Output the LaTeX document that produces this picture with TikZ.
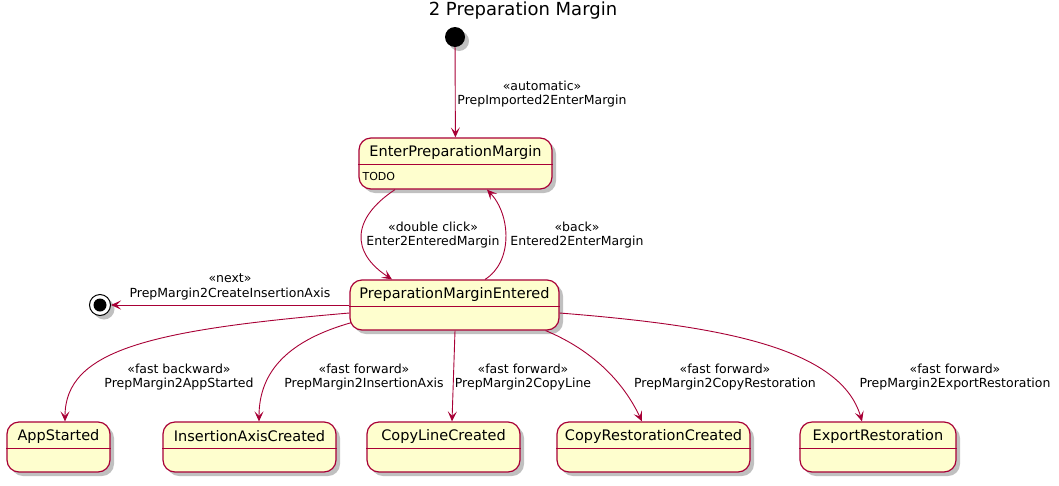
\documentclass[tikz,border=0pt]{standalone}
\usepackage{fontspec}
\setmainfont{DejaVu Sans}
\usetikzlibrary{shadows,arrows.meta,calc}
\definecolor{pumlred}{HTML}{A80036}
\definecolor{pumlfill}{HTML}{FEFECE}
\begin{document}
\begin{tikzpicture}[x=1pt,y=-1pt,
  shad/.style={drop shadow={shadow xshift=4pt, shadow yshift=-4pt, opacity=0.35, fill=black!70}},
  statebox/.style={draw=pumlred, fill=pumlfill, line width=1.2pt, rounded corners=12pt, inner sep=0pt, shad},
  sep/.style={draw=pumlred, line width=1.2pt},
  sname/.style={font=\fontsize{14.5}{16}\selectfont, inner sep=0pt},
  elabel/.style={font=\fontsize{12.5}{14.5}\selectfont, align=center, inner sep=0pt},
  trans/.style={draw=pumlred, line width=0.9pt, -{Stealth[length=10pt,width=9pt,inset=4.5pt]}},
]
\fill[white] (0,0) rectangle (1059,485);
\useasboundingbox (0,0) rectangle (1059,485);

\node[font=\fontsize{18}{20}\selectfont, inner sep=0pt] (title) at (523,11) {2 Preparation Margin};

% initial and final
\node[circle, fill=black, minimum size=20, inner sep=0pt, shad] (init) at (455,37) {};
\node[circle, draw=black, fill=white, line width=1pt, minimum size=21, inner sep=0pt, shad] (fin) at (100,305) {};
\node[circle, fill=black, minimum size=13, inner sep=0pt] (finin) at (fin) {};

% EnterPreparationMargin
\node[statebox, minimum width=193, minimum height=51] (epm) at (455.5,163.5) {};
\draw[sep] ($(epm.north west)+(0,27)$) -- ($(epm.north east)+(0,27)$);
\node[sname] (epmname) at ($(epm.north)+(0,15)$) {EnterPreparationMargin};
\node[font=\fontsize{11}{13}\selectfont, inner sep=0pt, anchor=west] (epmtodo) at ($(epm.north west)+(4,39)$) {TODO};

% PreparationMarginEntered
\node[statebox, minimum width=209, minimum height=50] (pme) at (454.5,305) {};
\draw[sep] ($(pme.north west)+(0,27)$) -- ($(pme.north east)+(0,27)$);
\node[sname] (pmename) at ($(pme.north)+(0,15)$) {PreparationMarginEntered};

% bottom states
\node[statebox, minimum width=103, minimum height=50] (app) at (58.5,447) {};
\draw[sep] ($(app.north west)+(0,27)$) -- ($(app.north east)+(0,27)$);
\node[sname] (appname) at ($(app.north)+(0,15)$) {AppStarted};

\node[statebox, minimum width=173, minimum height=50] (iac) at (249.5,447) {};
\draw[sep] ($(iac.north west)+(0,27)$) -- ($(iac.north east)+(0,27)$);
\node[sname] (iacname) at ($(iac.north)+(0,15)$) {InsertionAxisCreated};

\node[statebox, minimum width=153, minimum height=50] (clc) at (443.5,447) {};
\draw[sep] ($(clc.north west)+(0,27)$) -- ($(clc.north east)+(0,27)$);
\node[sname] (clcname) at ($(clc.north)+(0,15)$) {CopyLineCreated};

\node[statebox, minimum width=193, minimum height=50] (crc) at (653.5,447) {};
\draw[sep] ($(crc.north west)+(0,27)$) -- ($(crc.north east)+(0,27)$);
\node[sname] (crcname) at ($(crc.north)+(0,15)$) {CopyRestorationCreated};

\node[statebox, minimum width=156, minimum height=50] (exr) at (878,447) {};
\draw[sep] ($(exr.north west)+(0,27)$) -- ($(exr.north east)+(0,27)$);
\node[sname] (exrname) at ($(exr.north)+(0,15)$) {ExportRestoration};

% transitions
\draw[trans] (init) -- (epm);
\node[elabel] (l1) at (542,94) {«automatic»\\PrepImported2EnterMargin};

\draw[trans] ($(epm.south)+(-60.5,0)$) .. controls (352,218) and (350,252) .. ($(pme.north)+(-62.5,0)$);
\node[elabel] (l2) at (433,235) {«double click»\\Enter2EnteredMargin};

\draw[trans] ($(pme.north)+(30.5,0)$) .. controls (513,262) and (511,215) .. ($(epm.south)+(31.5,0)$);
\node[elabel] (l3) at (577,235) {«back»\\Entered2EnterMargin};

\draw[trans] (pme.west) -- (fin);
\node[elabel] (l4) at (230,287) {«next»\\PrepMargin2CreateInsertionAxis};

\draw[trans] ($(pme.west)+(0,8)$) .. controls (150,330) and (65,350) .. ($(app.north)+(6.5,0)$);
\node[elabel] (l5) at (179,377) {«fast backward»\\PrepMargin2AppStarted};

\draw[trans] ($(pme.south west)+(2,-8)$) .. controls (290,340) and (259,370) .. ($(iac.north)+(9.5,0)$);
\node[elabel] (l6) at (364,377) {«fast forward»\\PrepMargin2InsertionAxis};

\draw[trans] ($(pme.south)+(0.5,0)$) -- ($(clc.north)+(8.5,0)$);
\node[elabel] (l7) at (523,377) {«fast forward»\\PrepMargin2CopyLine};

\draw[trans] ($(pme.south east)+(-14,0)$) .. controls (585,347) and (620,375) .. ($(crc.north)+(-11.5,0)$);
\node[elabel] (l8) at (725,377) {«fast forward»\\PrepMargin2CopyRestoration};

\draw[trans] ($(pme.east)+(0,8)$) .. controls (710,325) and (840,345) .. ($(exr.north)+(-16,0)$);
\node[elabel] (l9) at (955,377) {«fast forward»\\PrepMargin2ExportRestoration};
\end{tikzpicture}
\end{document}
